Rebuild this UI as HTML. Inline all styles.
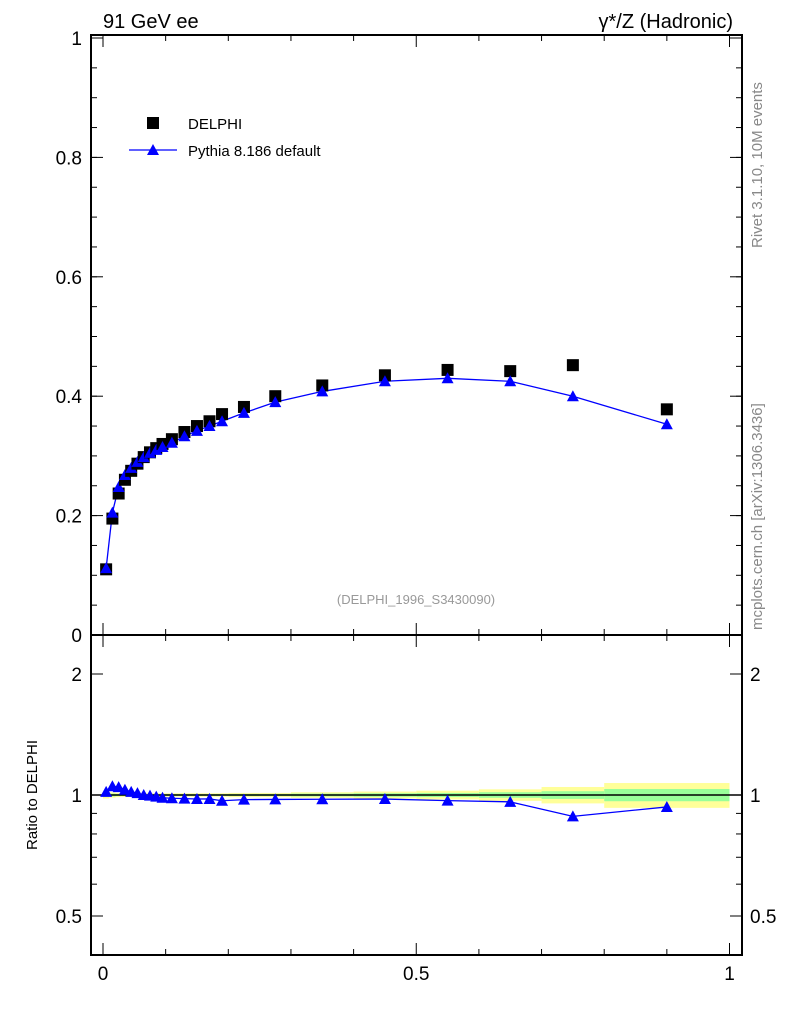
<!DOCTYPE html>
<html><head><meta charset="utf-8"><style>
body{margin:0;background:#fff;}
svg text{font-family:"Liberation Sans",sans-serif;}
</style></head><body>
<svg id="c" width="786" height="1024" xmlns="http://www.w3.org/2000/svg">
<g id="bands"></g>
<g id="axes"></g>
<g id="marks"></g>
<text x="103" y="28" font-size="20">91 GeV ee</text>
<text x="733" y="28" font-size="20" text-anchor="end">γ*/Z (Hadronic)</text>
<text transform="translate(762,248) rotate(-90)" font-size="15" fill="#888">Rivet 3.1.10,  10M events</text>
<text transform="translate(762,630) rotate(-90)" font-size="15" fill="#888">mcplots.cern.ch [arXiv:1306.3436]</text>
<text x="416" y="604" font-size="13" fill="#999" text-anchor="middle">(DELPHI_1996_S3430090)</text>
<text transform="translate(37,795) rotate(-90)" font-size="15" text-anchor="middle">Ratio to DELPHI</text>
<rect x="147" y="117" width="12" height="12" fill="#000"/>
<text x="188" y="129" font-size="15">DELPHI</text>
<line x1="129" y1="150" x2="177" y2="150" stroke="#00f" stroke-width="1.3"/>
<polygon points="153,144 159,155 147,155" fill="#00f"/>
<text x="188" y="156" font-size="15">Pythia 8.186 default</text>
</svg>
<script>
const xs=[0.005,0.015,0.025,0.035,0.045,0.055,0.065,0.075,0.085,0.095,0.11,0.13,0.15,0.17,0.19,0.225,0.275,0.35,0.45,0.55,0.65,0.75,0.9];
const delphi=[0.11,0.195,0.237,0.26,0.275,0.287,0.298,0.306,0.313,0.32,0.328,0.34,0.35,0.358,0.37,0.382,0.4,0.418,0.435,0.444,0.442,0.452,0.378];
const pythia=[0.112,0.205,0.248,0.268,0.28,0.29,0.298,0.305,0.31,0.315,0.322,0.333,0.342,0.35,0.358,0.372,0.39,0.408,0.425,0.43,0.425,0.4,0.353];
const binLo=[0,0.01,0.02,0.03,0.04,0.05,0.06,0.07,0.08,0.09,0.1,0.12,0.14,0.16,0.18,0.2,0.25,0.3,0.4,0.5,0.6,0.7,0.8];
const binHi=[0.01,0.02,0.03,0.04,0.05,0.06,0.07,0.08,0.09,0.1,0.12,0.14,0.16,0.18,0.2,0.25,0.3,0.4,0.5,0.6,0.7,0.8,1.0];
const errStat=[0.01,0.008,0.006,0.006,0.005,0.005,0.005,0.005,0.005,0.005,0.005,0.005,0.005,0.005,0.005,0.006,0.006,0.008,0.01,0.012,0.016,0.022,0.035];
const errTot=[0.02,0.015,0.012,0.012,0.01,0.01,0.01,0.01,0.01,0.01,0.01,0.01,0.01,0.01,0.01,0.012,0.012,0.016,0.02,0.025,0.033,0.047,0.071];
const mainTicks=[0,0.2,0.4,0.6,0.8,1];
const ratioTicks=[0.5,1,2];
const xTicks=[0,0.5,1];
const NS="http://www.w3.org/2000/svg";
const L=91,R=742,T=35,MB=635,RB=955;
const X=v=>103+v*626.5, Y=v=>635-v*597, YR=v=>795-Math.log2(v)*121;
function mk(t,a,p){const e=document.createElementNS(NS,t);for(const k in a)e.setAttribute(k,a[k]);document.getElementById(p).appendChild(e);return e;}
// bands
for(let i=0;i<xs.length;i++){
 let e=mk('rect',{x:X(binLo[i]),width:X(binHi[i])-X(binLo[i]),y:YR(1+errTot[i]),height:YR(1-errTot[i])-YR(1+errTot[i]),fill:'#ffff99'},'bands');
 
 
 e=mk('rect',{x:X(binLo[i]),width:X(binHi[i])-X(binLo[i]),y:YR(1+errStat[i]),height:YR(1-errStat[i])-YR(1+errStat[i]),fill:'#99ff99'},'bands');
 
 
}
// frames
let f=mk('rect',{x:L,y:T,width:R-L,height:MB-T,fill:'none',stroke:'#000','stroke-width':2},'axes');


f=mk('rect',{x:L,y:MB,width:R-L,height:RB-MB,fill:'none',stroke:'#000','stroke-width':2},'axes');


let ln=mk('line',{x1:L,x2:R,y1:YR(1),y2:YR(1),stroke:'#000','stroke-width':1.5},'axes');


// y ticks main
for(const t of mainTicks){const y=Y(t);
 mk('line',{x1:L,x2:L+12,y1:y,y2:y,stroke:'#000'},'axes');mk('line',{x1:R,x2:R-12,y1:y,y2:y,stroke:'#000'},'axes');
 const tx=mk('text',{x:82,y:y+7,'font-size':19,'text-anchor':'end'},'axes');tx.textContent=t===0?'0':(t===1?'1':t.toFixed(1));
 
 }
for(let t=0.05;t<1.01;t+=0.05){const y=Y(t);mk('line',{x1:L,x2:L+6,y1:y,y2:y,stroke:'#000'},'axes');mk('line',{x1:R,x2:R-6,y1:y,y2:y,stroke:'#000'},'axes');}
// ratio ticks
for(const t of ratioTicks){const y=YR(t);
 mk('line',{x1:L,x2:L+12,y1:y,y2:y,stroke:'#000'},'axes');mk('line',{x1:R,x2:R-12,y1:y,y2:y,stroke:'#000'},'axes');
 let tx=mk('text',{x:82,y:y+7,'font-size':19,'text-anchor':'end'},'axes');tx.textContent=String(t);
 
 
 tx=mk('text',{x:750,y:y+7,'font-size':19},'axes');tx.textContent=String(t);
 
 }
for(const t of [0.6,0.7,0.8,0.9,3]){const y=YR(t);if(y<MB)continue;mk('line',{x1:L,x2:L+6,y1:y,y2:y,stroke:'#000'},'axes');mk('line',{x1:R,x2:R-6,y1:y,y2:y,stroke:'#000'},'axes');}
// x ticks
for(let t=0;t<=1.001;t+=0.1){const x=X(t),big=Math.abs(t*2-Math.round(t*2))<1e-6;const h=big?12:6;
 for(const [yb,d] of [[MB,-1],[T,1],[RB,-1],[MB,1]])mk('line',{x1:x,x2:x,y1:yb,y2:yb+d*h,stroke:'#000'},'axes');}
for(const t of xTicks){const tx=mk('text',{x:X(t),y:980,'font-size':19,'text-anchor':'middle'},'axes');tx.textContent=String(t);
 
 }
// marks
const tri=(x,y)=>`${x},${y-6} ${x+6},${y+5} ${x-6},${y+5}`;
let pl=mk('polyline',{points:xs.map((x,i)=>X(x)+','+Y(pythia[i])).join(' '),fill:'none',stroke:'#00f','stroke-width':1.3},'marks');


const ratio=pythia.map((p,i)=>p/delphi[i]);
pl=mk('polyline',{points:xs.map((x,i)=>X(x)+','+YR(ratio[i])).join(' '),fill:'none',stroke:'#00f','stroke-width':1.3},'marks');


xs.forEach((x,i)=>{
 let r=mk('rect',{x:X(x)-6,y:Y(delphi[i])-6,width:12,height:12,fill:'#000'},'marks');
 
 
 let p=mk('polygon',{points:tri(X(x),Y(pythia[i])),fill:'#00f'},'marks');
 
 
 p=mk('polygon',{points:tri(X(x),YR(ratio[i])),fill:'#00f'},'marks');
 
 
});
</script>
</body></html>
